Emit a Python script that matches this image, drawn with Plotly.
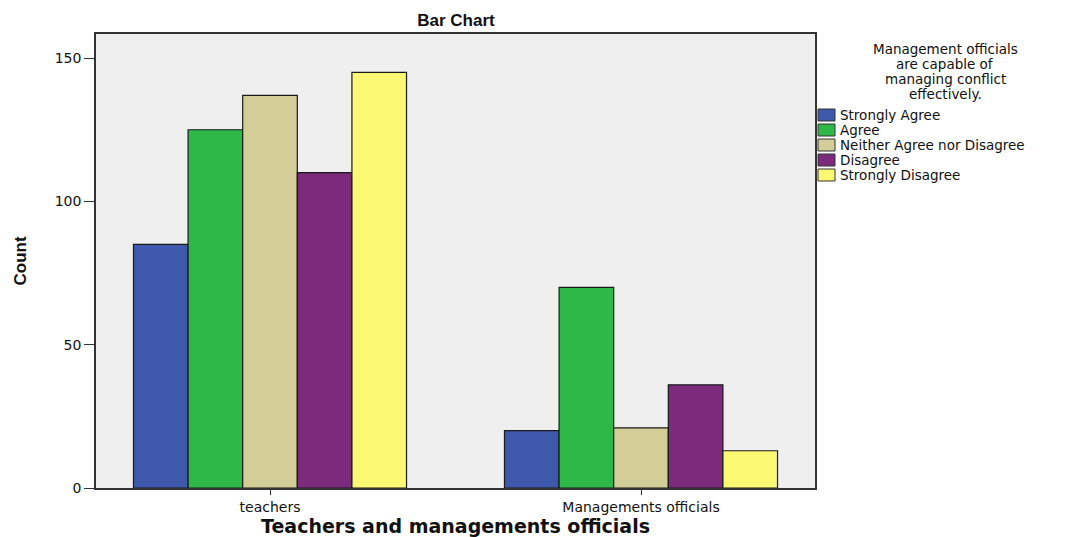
import plotly.graph_objects as go

categories = ["teachers", "Managements officials"]
responses = ["Strongly Agree", "Agree", "Neither Agree nor Disagree", "Disagree", "Strongly Disagree"]
counts = {
    "Strongly Agree": [85, 20],
    "Agree": [125, 70],
    "Neither Agree nor Disagree": [137, 21],
    "Disagree": [110, 36],
    "Strongly Disagree": [145, 13],
}
colors = ["#3E58AC", "#2EB848", "#D3CE97", "#7B2A7C", "#FBF873"]
y_ticks = [0, 50, 100, 150]
legend_title_lines = ["Management officials", "are capable of", "managing conflict", "effectively."]

# page geometry (browser body has an 8px margin)
OFF = 8
PAGE_W, PAGE_H = 1073, 537
PL, PR, PT, PB = 96, 815, 34, 488          # plot area in page pixels
W, H = PAGE_W - OFF, PAGE_H - OFF
L, T = PL - OFF, PT - OFF
R = W - (PR - OFF)
B = H - (PB - OFF)
pw, ph = PR - PL, PB - PT

fig = go.Figure()
for name, col in zip(responses, colors):
    fig.add_trace(go.Bar(x=categories, y=counts[name], name=name,
                         marker=dict(color=col, line=dict(color="#1a1a1a", width=1.2)),
                         showlegend=False))

def px(x):
    return (x - PL) / pw

def py(y):
    return (PB - y) / ph

font_main = "DejaVu Sans"
LEG_SIZE = 13
shapes = []
annotations = []
for i, line in enumerate(legend_title_lines):
    annotations.append(dict(text=line, xref="paper", yref="paper", x=px(945), y=py(49 + 15 * i),
                            xanchor="center", yanchor="middle", showarrow=False,
                            font=dict(family=font_main, size=LEG_SIZE + 0.5, color="#111")))
for i, (name, col) in enumerate(zip(responses, colors)):
    yc = 115 + 15 * i
    shapes.append(dict(type="rect", xref="paper", yref="paper",
                       x0=px(818), x1=px(835), y0=py(yc - 6), y1=py(yc + 6),
                       fillcolor=col, line=dict(color="#333", width=1)))
    annotations.append(dict(text=name, xref="paper", yref="paper", x=px(838), y=py(yc),
                            xanchor="left", yanchor="middle", showarrow=False,
                            font=dict(family=font_main, size=LEG_SIZE + 0.5, color="#111")))

fig.update_layout(
    width=W, height=H,
    margin=dict(l=L, r=R, t=T, b=B, autoexpand=False),
    paper_bgcolor="white", plot_bgcolor="#EFEFEF",
    barmode="group", bargap=0.264, bargroupgap=0,
    title=dict(text="<b>Bar Chart</b>", x=px(456), xref="paper", y=1 - (20 - OFF) / H,
               yanchor="middle", xanchor="center",
               font=dict(family="Liberation Sans", size=17, color="#111")),
    xaxis=dict(type="category", range=[-0.469, 1.469], showgrid=False,
               showline=True, linecolor="#333", linewidth=1.5, mirror=True,
               ticks="outside", ticklen=5, tickcolor="#333",
               tickfont=dict(family=font_main, size=14, color="#111"),
               title=dict(text="<b>Teachers and managements officials</b>", standoff=8,
                          font=dict(family=font_main, size=19, color="#111"))),
    yaxis=dict(range=[0, 158.4], tickvals=y_ticks, showgrid=False, zeroline=False,
               showline=True, linecolor="#333", linewidth=1.5, mirror=True,
               ticks="outside", ticklen=10, tickcolor="#333",
               tickfont=dict(family=font_main, size=14, color="#111"),
               title=dict(text="<b>Count</b>", standoff=24,
                          font=dict(family="Liberation Sans", size=17, color="#111"))),
    shapes=shapes, annotations=annotations,
)

fig.write_html("out.html")
